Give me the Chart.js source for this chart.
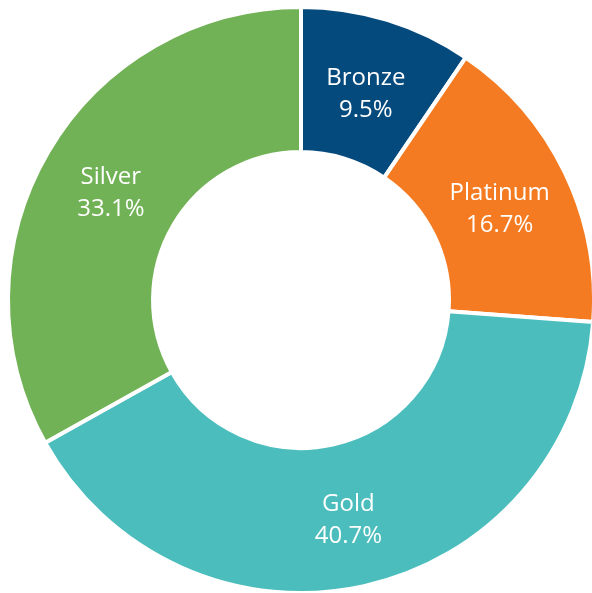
<!DOCTYPE html>
<html>
<head>
<meta charset="utf-8">
<script src="https://cdn.jsdelivr.net/npm/chart.js@4"></script>
<style>
html,body{margin:0;padding:0;background:#fff;overflow:hidden;}
#wrap{width:600px;height:600px;position:relative;}
</style>
</head>
<body>
<div id="wrap"><canvas id="c"></canvas></div>
<script>
const categories = ["Bronze", "Platinum", "Gold", "Silver"];
const values = [9.5, 16.7, 40.7, 33.1];
const colors = ["#054a7d", "#f47b21", "#4bbdbd", "#72b256"];

const labelPlugin = {
  id: 'arcLabels',
  afterDatasetsDraw(chart) {
    const ctx = chart.ctx;
    const meta = chart.getDatasetMeta(0);
    ctx.save();
    ctx.fillStyle = '#ffffff';
    ctx.font = '24px "Open Sans", sans-serif';
    ctx.textAlign = 'center';
    ctx.textBaseline = 'alphabetic';
    meta.data.forEach((arc, i) => {
      const p = arc.getCenterPoint();
      const v = chart.data.datasets[0].data[i];
      ctx.fillText(chart.data.labels[i], p.x, p.y - 4);
      ctx.fillText(v.toFixed(1) + '%', p.x, p.y + 28);
    });
    ctx.restore();
  }
};

new Chart(document.getElementById('c'), {
  type: 'doughnut',
  data: {
    labels: categories,
    datasets: [{
      data: values,
      backgroundColor: colors,
      borderColor: '#ffffff',
      borderWidth: 4
    }]
  },
  options: {
    responsive: true,
    maintainAspectRatio: false,
    animation: false,
    cutout: '50.5%',
    layout: { padding: { left: 6, right: 4, top: 5, bottom: 5 } },
    plugins: { legend: { display: false }, tooltip: { enabled: false } }
  },
  plugins: [labelPlugin]
});
</script>
</body>
</html>
